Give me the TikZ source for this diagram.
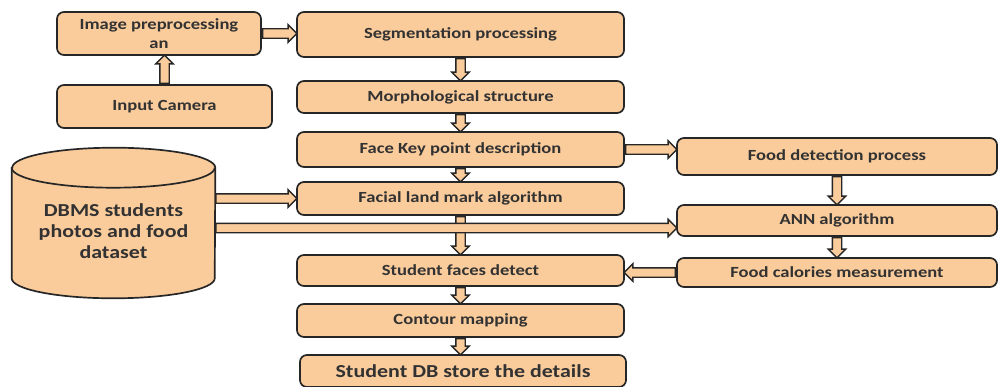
\documentclass[tikz,border=0pt]{standalone}
\usepackage{fontspec}
\setmainfont{Carlito}[FakeStretch=1.2]
\usetikzlibrary{arrows.meta, positioning, shapes.arrows, calc}
\definecolor{boxfill}{RGB}{250, 203, 155}
\definecolor{boxline}{RGB}{38, 38, 38}
\definecolor{boxtext}{RGB}{50, 50, 50}

% fat hollow arrow from one anchor to another
\newcommand{\fatlink}[2]{%
  \path let \p1=(#1), \p2=(#2), \n1={veclen(\x2-\x1,\y2-\y1)} in
    (\p1) -- node[fatarr, pos=0, anchor=tail, minimum height=\n1] {} (\p2);}

\begin{document}
\begin{tikzpicture}[x=0.025cm, y=-0.025cm,
      box/.style={rectangle, draw=boxline, fill=boxfill, line width=1.2pt, rounded corners=5pt,
        minimum width=8.175cm, font=\fontsize{11}{13}\selectfont\bfseries, text=boxtext, align=center},
      fatarr/.style={single arrow, draw=boxline, fill=boxfill, line width=1pt,
        inner xsep=0pt, inner ysep=0.1cm, single arrow head extend=0.1cm,
        sloped, allow upside down}
    ]
      \useasboundingbox (0,0) rectangle (998,387);

      \node[box, minimum width=5.1cm, minimum height=1.075cm] (img) at (159, 33.5) {Image preprocessing\\an};
      \node[box, minimum width=5.375cm, minimum height=1.075cm] (cam) at (164.5, 106.5) {Input Camera};
      \node[box, minimum height=1.125cm] (seg) at (460.5, 34.5) {Segmentation processing};
      \node[box, minimum height=0.8cm] (morph) at (460.5, 97) {Morphological structure};
      \node[box, minimum height=0.875cm] (fk) at (460.5, 149.5) {Face Key point description};
      \node[box, minimum height=0.825cm] (fl) at (460.5, 198.5) {Facial land mark algorithm};
      \node[box, minimum height=0.775cm] (sf) at (460.5, 270.5) {Student faces detect};
      \node[box, minimum height=0.825cm] (cm) at (460.5, 320.5) {Contour mapping};
      \node[box, minimum width=8.15cm, minimum height=0.8cm, font=\fontsize{13}{15}\selectfont\bfseries] (sdb) at (463, 371) {Student DB store the details};
      \node[box, minimum width=8cm, minimum height=0.925cm] (fd) at (837, 156.5) {Food detection process};
      \node[box, minimum width=8cm, minimum height=0.775cm] (ann) at (837, 220.5) {ANN algorithm};
      \node[box, minimum width=8cm, minimum height=0.725cm] (cal) at (837, 272.5) {Food calories measurement};

      % database cylinder
      \node[minimum width=5.075cm, minimum height=3.75cm, inner sep=0pt] (db) at (113.5, 223) {};
      \draw[draw=boxline, fill=boxfill, line width=1.2pt]
        ([yshift=-0.5cm]db.north west) -- ([yshift=0.5cm]db.south west)
        arc[start angle=180, end angle=360, x radius=2.5375cm, y radius=0.5cm]
        -- ([yshift=-0.5cm]db.north east)
        arc[start angle=0, end angle=180, x radius=2.5375cm, y radius=0.5cm] -- cycle;
      \draw[draw=boxline, line width=1.2pt] ([yshift=-0.5cm]db.north west)
        arc[start angle=180, end angle=360, x radius=2.5375cm, y radius=0.5cm];
      \node[font=\fontsize{13}{15}\selectfont\bfseries, text=boxtext, align=center] (dbtext) at ([yshift=-0.2cm]db.center) {DBMS students\\photos and food\\dataset};

      \fatlink{cam.north}{cam.north |- img.south}
      \fatlink{img.east}{img.east -| seg.west}
      \fatlink{seg.south}{morph.north}
      \fatlink{morph.south}{fk.north}
      \fatlink{fk.south}{fl.north}
      \fatlink{fk.east}{fk.east -| fd.west}
      \fatlink{fd.south}{ann.north}
      \fatlink{ann.south}{cal.north}
      \fatlink{cal.west}{cal.west -| sf.east}
      \fatlink{fl.south}{sf.north}
      \fatlink{db.east |- fl.west}{fl.west}
      \coordinate (dbout) at ($(db.east)+(0,5)$);
      \fatlink{dbout}{dbout -| ann.west}
      \fatlink{sf.south}{cm.north}
      \fatlink{cm.south}{cm.south |- sdb.north}
    \end{tikzpicture}
\end{document}
